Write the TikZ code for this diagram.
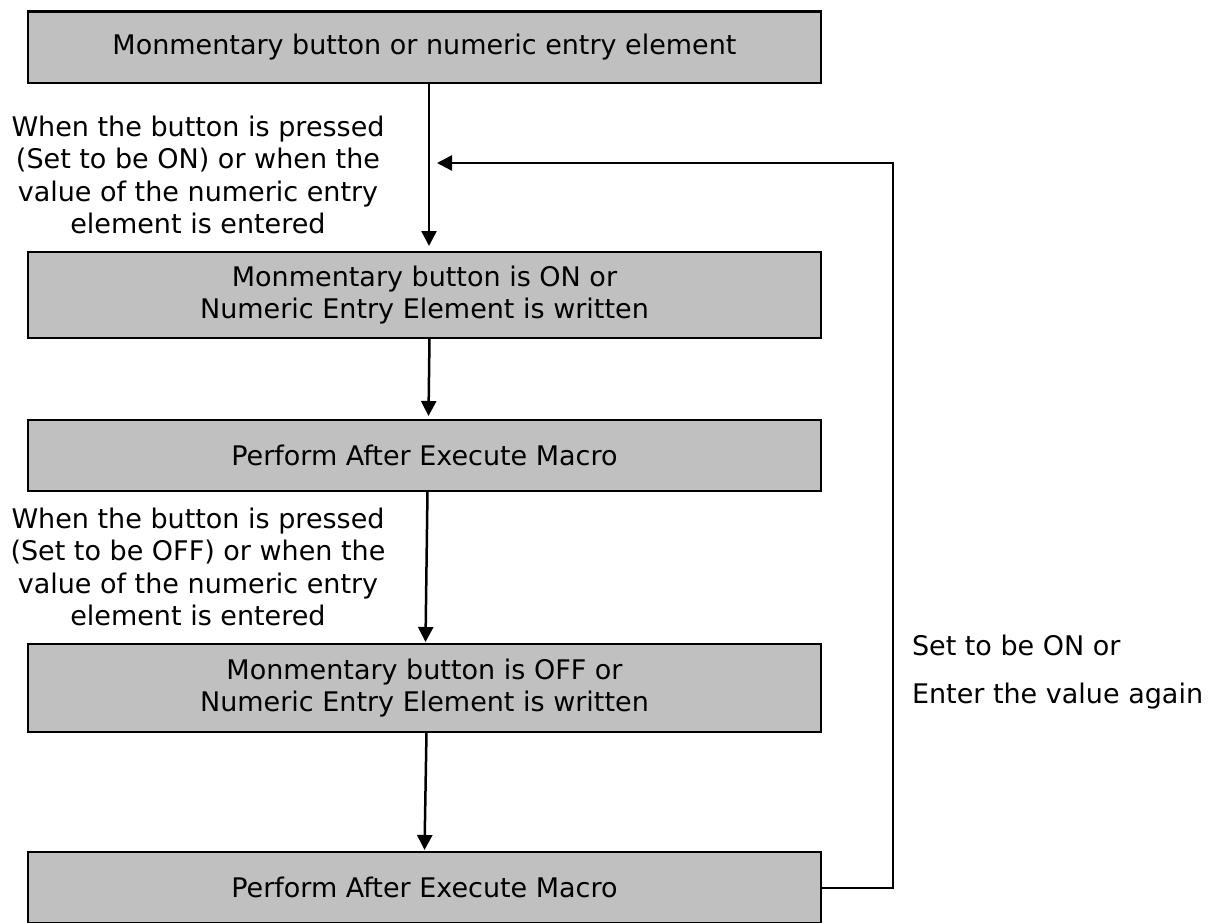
\documentclass[tikz,border=0pt]{standalone}
\usepackage{fontspec}
\setmainfont{DejaVu Sans}
\usetikzlibrary{arrows.meta}
\begin{document}
\begin{tikzpicture}[x=1pt,y=-1pt,
  box/.style={draw=black, line width=2.5pt, fill=boxgray, inner sep=0pt, outer sep=0pt,
    minimum width=793pt, align=center, font=\fontsize{27pt}{32pt}\selectfont},
  lbl/.style={inner sep=0pt, outer sep=0pt, align=center, font=\fontsize{27pt}{32.5pt}\selectfont},
  arr/.style={line width=2.5pt, -{Triangle[length=15pt,width=15pt]}}]
\definecolor{boxgray}{RGB}{192,192,192}
\useasboundingbox (0,0) rectangle (1211,923);
\node[box, minimum height=71.5pt] (b1) at (424.5,47.5) {Monmentary button or numeric entry element};
\node[box, minimum height=86pt] (b2) at (424.5,295) {Monmentary button is ON or\\Numeric Entry Element is written};
\node[box, minimum height=71pt] (b3) at (424.5,455.5) {Perform After Execute Macro};
\node[box, minimum height=88pt] (b4) at (424.5,688) {Monmentary button is OFF or\\Numeric Entry Element is written};
\node[box, minimum height=71.5pt] (b5) at (424.5,887.75) {Perform After Execute Macro};
\node[lbl, anchor=north] (l1) at (198,115.5) {When the button is pressed\\(Set to be ON) or when the\\value of the numeric entry\\element is entered};
\node[lbl, anchor=north] (l2) at (198,507.5) {When the button is pressed\\(Set to be OFF) or when the\\value of the numeric entry\\element is entered};
\node[inner sep=0pt, outer sep=0pt, anchor=north west, align=left,
  font=\fontsize{27pt}{48pt}\selectfont] (l3) at (912,634.5) {Set to be ON or\\Enter the value again};
\draw[arr] ([xshift=4.5pt]b1.south) -- ([xshift=4.5pt,yshift=6pt]b2.north);
\draw[arr] ([xshift=5pt]b2.south) -- ([xshift=4pt,yshift=4pt]b3.north);
\draw[arr] ([xshift=3pt]b3.south) -- ([xshift=1pt,yshift=2pt]b4.north);
\draw[arr] ([xshift=2pt]b4.south) -- ([xshift=0pt,yshift=2pt]b5.north);
\coordinate (loop) at (893,163);
\coordinate (ret) at (437,163);
\draw[arr] (b5.east) -| (loop) -- (ret);
\end{tikzpicture}
\end{document}
